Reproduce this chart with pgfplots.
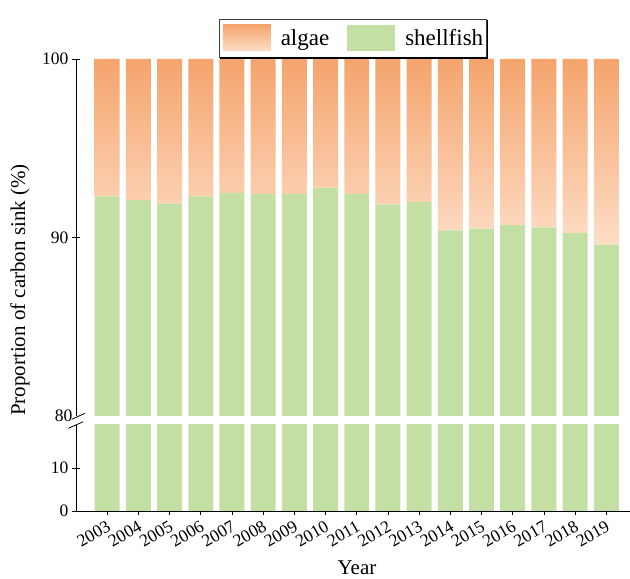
\documentclass[border=0pt]{standalone}
\usepackage{fontspec}
\setmainfont{Liberation Serif}
\usepackage{pgfplots}
\usepackage{pgfplotstable}
\pgfplotsset{compat=1.18}
\definecolor{shell}{HTML}{C4DFA4}
\definecolor{algtop}{HTML}{F4A46C}
\definecolor{algbot}{HTML}{FDDDC6}

\pgfplotsset{swatch/.style={legend image code/.code={\path[##1] (0pt,-13pt) rectangle (48pt,13pt); \path (58pt,0pt);}}}

\pgfplotstableread{
x year shell algae
0 2003 92.30 7.70
1 2004 92.10 7.90
2 2005 91.90 8.10
3 2006 92.30 7.70
4 2007 92.50 7.50
5 2008 92.45 7.55
6 2009 92.45 7.55
7 2010 92.80 7.20
8 2011 92.45 7.55
9 2012 91.85 8.15
10 2013 92.00 8.00
11 2014 90.40 9.60
12 2015 90.50 9.50
13 2016 90.70 9.30
14 2017 90.55 9.45
15 2018 90.25 9.75
16 2019 89.60 10.40
}\datatable

\begin{document}
\begin{tikzpicture}[x=1pt,y=1pt]
\path[use as bounding box] (0,0) rectangle (630,579);
\pgfplotsset{
  common/.style={
    scale only axis, width=554pt, xmin=-1, xmax=16.76,
    ybar stacked, bar width=0.8,
    tick style={line width=0.8pt, black},
    major tick length=8pt, tick align=inside,
    ticklabel style={font=\fontsize{17.5}{20}\selectfont},
    /pgf/number format/assume math mode=true,
    anchor=south west,
  }
}
\begin{axis}[common, at={(76pt,68pt)}, height=86pt, ymin=0, ymax=20,
  ytick={0,10}, axis x line=bottom, axis y line=left,
  axis line style={-, line width=0.8pt},
  xtick={0,...,16},
  xticklabels={2003,2004,2005,2006,2007,2008,2009,2010,2011,2012,2013,2014,2015,2016,2017,2018,2019},
  xticklabel style={rotate=30, anchor=north east}]
\addplot[fill=shell, draw=none] table[x=x,y=shell]{\datatable};
\end{axis}

\begin{axis}[common, at={(76pt,163pt)}, height=357pt, ymin=80, ymax=100,
  ytick={90,100}, extra y ticks={80}, extra y tick style={major tick length=0pt},
  axis x line=none, axis y line=left,
  axis line style={-, line width=0.8pt},
  legend columns=2,
  legend style={at={(0.5,1.005)}, anchor=south, draw=black!75, line width=0.6pt,
    fill=white, name=leg,
    font=\fontsize{23}{25}\selectfont, inner xsep=3pt, inner ysep=6pt,
    nodes={inner sep=0pt},
    /tikz/every even column/.append style={column sep=18pt}}]
\addlegendimage{top color=algtop, bottom color=algbot, draw=none, swatch}
\addlegendimage{fill=shell, draw=none, swatch}
\addplot[fill=shell, draw=none] table[x=x,y=shell]{\datatable};
\addplot[top color=algtop, bottom color=algbot, draw=none] table[x=x,y=algae]{\datatable};
\legend{algae,shellfish}
\end{axis}

\draw[line width=1.6pt] ([xshift=1pt,yshift=-1pt]leg.north east) -- ([xshift=1pt,yshift=-1pt]leg.south east) -- ([xshift=1pt,yshift=-1pt]leg.south west);

\draw[line width=0.8pt] (71.7,159.7) -- (85,165.7);
\draw[line width=0.8pt] (68.3,150.7) -- (83.3,157.3);

\node[rotate=90, font=\fontsize{21}{24}\selectfont] at (20,289) {Proportion of carbon sink (\%)};
\node[font=\fontsize{21}{24}\selectfont, anchor=base, inner sep=0pt] at (357,4.5) {Year};
\end{tikzpicture}
\end{document}
